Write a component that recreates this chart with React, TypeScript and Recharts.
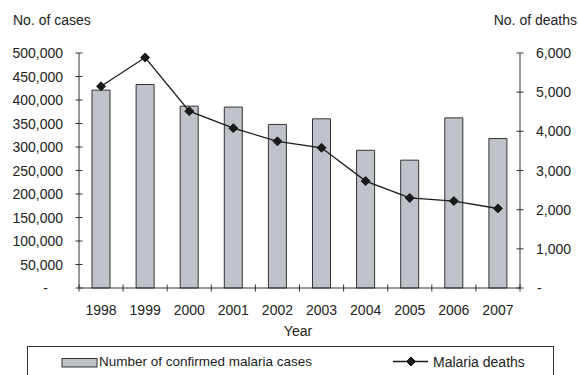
import React from "react";
import { Bar, ComposedChart, Line, XAxis, YAxis } from "recharts";

const years = ["1998", "1999", "2000", "2001", "2002", "2003", "2004", "2005", "2006", "2007"];
const cases = [421000, 433000, 387000, 385000, 348000, 360000, 293000, 272000, 362000, 318000];
const deaths = [5150, 5885, 4515, 4080, 3745, 3580, 2730, 2300, 2220, 2030];
const caseTicks = [0, 50000, 100000, 150000, 200000, 250000, 300000, 350000, 400000, 450000, 500000];
const deathTicks = [0, 1000, 2000, 3000, 4000, 5000, 6000];

const data = years.map((year, i) => ({ year, cases: cases[i], deaths: deaths[i] }));

const FONT = '"Liberation Sans", Arial, sans-serif';
const FS = 14;
const INK = "#333333";
const BAR_FILL = "#bfc3c9";
const TICK_SIZE = 4;
const TICK_MARGIN = 12;
const PLOT_WIDTH = 441;

const fmt = (v: number) => (v === 0 ? "-" : v.toLocaleString("en-US"));

function LeftTick(props: any) {
  const { x, y, payload } = props;
  const axisX = x + TICK_SIZE + TICK_MARGIN;
  const zero = payload.value === 0;
  return (
    <g>
      <line x1={axisX - 3.5} x2={axisX + 3.5} y1={y} y2={y} stroke={INK} />
      <text x={zero ? x - 15 : x} y={y} dy={5} textAnchor="end" fontSize={FS} fill="#222" fontFamily={FONT}>
        {fmt(payload.value)}
      </text>
    </g>
  );
}

function RightTick(props: any) {
  const { x, y, payload } = props;
  const axisX = x - TICK_SIZE - TICK_MARGIN;
  const zero = payload.value === 0;
  return (
    <g>
      <line x1={axisX - 3.5} x2={axisX + 3.5} y1={y} y2={y} stroke={INK} />
      <text x={zero ? x + 1 : x} y={y} dy={5} textAnchor="start" fontSize={FS} fill="#222" fontFamily={FONT}>
        {fmt(payload.value)}
      </text>
    </g>
  );
}

function YearTick(props: any) {
  const { x, y, payload, index } = props;
  const axisY = y - TICK_SIZE - 8;
  const half = PLOT_WIDTH / years.length / 2;
  return (
    <g>
      <line x1={x - half} x2={x - half} y1={axisY - 3.5} y2={axisY + 3.5} stroke={INK} />
      {index === years.length - 1 && (
        <line x1={x + half} x2={x + half} y1={axisY - 3.5} y2={axisY + 3.5} stroke={INK} />
      )}
      <text x={x} y={axisY + 26.5} textAnchor="middle" fontSize={FS} fill="#222" fontFamily={FONT}>
        {payload.value}
      </text>
    </g>
  );
}

function Diamond(props: any) {
  const { cx, cy } = props;
  if (cx == null || cy == null) return null;
  const r = 4.5;
  return (
    <polygon
      points={`${cx},${cy - r} ${cx + r},${cy} ${cx},${cy + r} ${cx - r},${cy}`}
      fill="#1a1a1a"
      stroke="#1a1a1a"
    />
  );
}

export default function App() {
  const textStyle: React.CSSProperties = {
    position: "absolute",
    fontFamily: FONT,
    fontSize: FS,
    lineHeight: "16px",
    color: "#222",
    whiteSpace: "nowrap",
  };
  return (
    <div style={{ position: "absolute", left: 0, top: 0, width: 578, height: 375, overflow: "hidden", background: "#fff" }}>
      <ComposedChart width={578} height={375} data={data} margin={{ top: 53, right: 0, bottom: 57, left: 0 }}>
        <XAxis
          dataKey="year"
          height={30}
          stroke={INK}
          tickLine={false}
          tickSize={TICK_SIZE}
          tickMargin={8}
          tick={<YearTick />}
          interval={0}
        />
        <YAxis
          yAxisId="left"
          width={79}
          domain={[0, 500000]}
          ticks={caseTicks}
          stroke={INK}
          tickLine={false}
          tickSize={TICK_SIZE}
          tickMargin={TICK_MARGIN}
          tick={<LeftTick />}
          interval={0}
        />
        <YAxis
          yAxisId="right"
          orientation="right"
          width={58}
          domain={[0, 6000]}
          ticks={deathTicks}
          stroke={INK}
          tickLine={false}
          tickSize={TICK_SIZE}
          tickMargin={TICK_MARGIN}
          tick={<RightTick />}
          interval={0}
        />
        <Bar
          yAxisId="left"
          dataKey="cases"
          barSize={18}
          fill={BAR_FILL}
          stroke={INK}
          strokeWidth={1}
          isAnimationActive={false}
        />
        <Line
          yAxisId="right"
          dataKey="deaths"
          type="linear"
          stroke="#1a1a1a"
          strokeWidth={1.3}
          dot={<Diamond />}
          activeDot={false}
          isAnimationActive={false}
        />
      </ComposedChart>

      <div style={{ ...textStyle, left: 13, top: 12 }}>No. of cases</div>
      <div style={{ ...textStyle, right: 1, top: 12 }}>No. of deaths</div>
      <div style={{ ...textStyle, left: 298, top: 323, transform: "translateX(-50%)" }}>Year</div>

      <div
        style={{
          position: "absolute",
          left: 27,
          top: 346,
          width: 527,
          height: 60,
          border: `1.5px solid ${INK}`,
          boxSizing: "border-box",
        }}
      />
      <svg width={578} height={375} style={{ position: "absolute", left: 0, top: 0, pointerEvents: "none" }}>
        <rect x={62} y={358.5} width={35} height={8.5} fill={BAR_FILL} stroke={INK} />
        <line x1={393} x2={428} y1={361.5} y2={361.5} stroke="#1a1a1a" strokeWidth={1.3} />
        <Diamond cx={411} cy={361.5} />
      </svg>
      <div style={{ ...textStyle, fontSize: 13.5, left: 99, top: 354 }}>Number of confirmed malaria cases</div>
      <div style={{ ...textStyle, left: 433, top: 354 }}>Malaria deaths</div>
    </div>
  );
}
